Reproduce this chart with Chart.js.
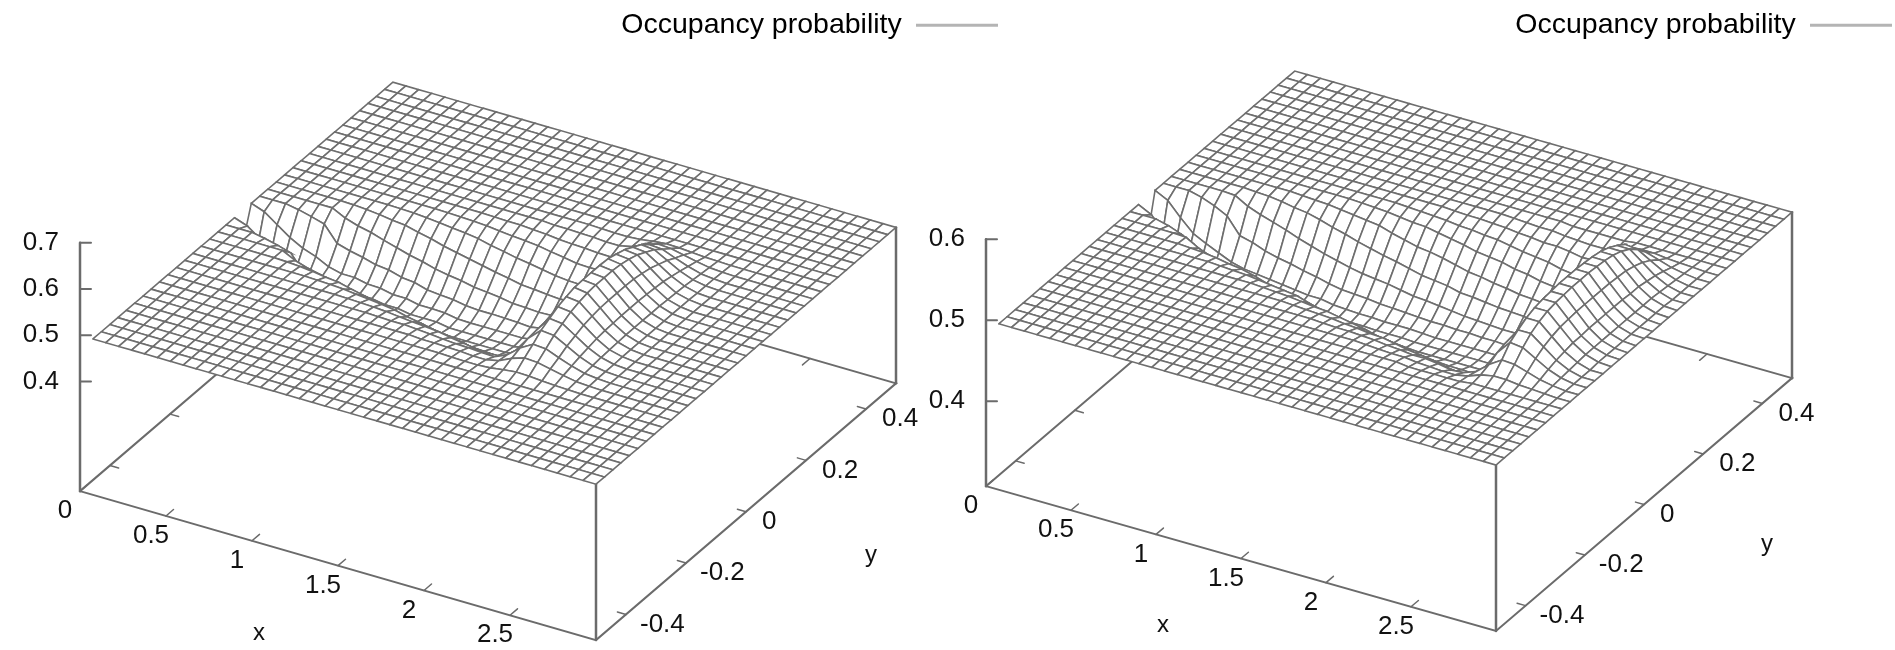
<!DOCTYPE html>
<html>
<head>
<meta charset="utf-8">
<script src="https://cdn.jsdelivr.net/npm/chart.js@4"></script>
<style>
    html, body { margin: 0; padding: 0; background: #fff; overflow: hidden; width: 1895px; height: 650px; }
    .panel { position: absolute; top: 0; height: 650px; }
    canvas { filter: blur(0.5px); }
</style>
</head>
<body>
<div class="panel" style="left:0;width:1009px"><canvas id="leftChart"></canvas></div>
<div class="panel" style="left:920px;width:983px"><canvas id="rightChart"></canvas></div>
<script>
const legendText = 'Occupancy probability';
const xTicks = [0, 0.5, 1, 1.5, 2, 2.5];
const yTicks = [-0.4, -0.2, 0, 0.2, 0.4];
const leftZTicks = [0.4, 0.5, 0.6, 0.7];
const rightZTicks = [0.4, 0.5, 0.6];

// grid nodes of the surface
const xNodes = [0.075, 0.15, 0.225, 0.3, 0.375, 0.45, 0.525, 0.6, 0.675, 0.75, 0.825, 0.9, 0.975, 1.05, 1.125, 1.2, 1.275, 1.35, 1.425, 1.5,
    1.575, 1.65, 1.725, 1.8, 1.875, 1.95, 2.025, 2.1, 2.175, 2.25, 2.325, 2.4, 2.475, 2.55, 2.625, 2.7, 2.775, 2.85, 2.925, 3];
const yNodes = [-0.5, -0.472, -0.444, -0.417, -0.389, -0.361, -0.333, -0.306, -0.278, -0.25, -0.222, -0.194, -0.167, -0.139, -0.111, -0.083, -0.056, -0.028, 0,
    0.028, 0.056, 0.083, 0.111, 0.139, 0.167, 0.194, 0.222, 0.25, 0.278, 0.306, 0.333, 0.361, 0.389, 0.417, 0.444, 0.472, 0.5];

// z in thousandths, one row per x node, columns going out from y = 0. Anything not listed is 500.
const leftZ = [
    [430], [410, 490], [400, 470], [395, 450, 495], [395, 435, 488],
    [395, 425, 480], [400, 411, 446, 486, 499], [395, 404, 438, 477, 497], [395, 404, 432, 471, 494], [390, 398, 424, 462, 490, 499],
    [390, 397, 421, 454, 487, 498], [385, 391, 413, 446, 480, 496], [385, 391, 410, 440, 474, 493, 499], [380, 385, 402, 432, 466, 490, 498], [380, 385, 399, 427, 460, 487, 497],
    [380, 384, 397, 423, 454, 483, 495, 499], [375, 379, 392, 417, 448, 476, 492, 498], [375, 378, 390, 414, 442, 471, 489, 498], [375, 378, 390, 411, 437, 465, 487, 496], [375, 378, 389, 406, 431, 461, 484, 494, 498],
    [375, 378, 388, 405, 429, 456, 479, 491, 498], [375, 378, 386, 403, 426, 451, 475, 489, 497], [380, 382, 391, 404, 424, 448, 470, 488, 496, 499], [385, 387, 395, 406, 426, 447, 469, 486, 494, 498], [400, 402, 408, 417, 433, 451, 470, 485, 494, 498],
    [455, 456, 460, 463, 473, 482, 491, 497], [530, 530, 531, 530, 530, 528, 526, 520, 513, 504], [583, 583, 582, 577, 571, 561, 551, 536, 522, 507], [580, 580, 578, 574, 568, 558, 548, 534, 520, 506], [555, 555, 554, 551, 547, 540, 533, 523, 514, 504],
    [530, 530, 529, 528, 526, 522, 518, 513, 508, 502], [512, 512, 512, 511, 510, 509, 507, 505, 503, 501], [503, 503, 503, 503, 503, 502, 502, 502, 501]
];
const rightZ = [
    [445], [435, 492], [428, 475], [425, 460, 496], [423, 452, 490],
    [422, 445, 482, 499], [430, 438, 462, 490, 499], [428, 434, 458, 484, 498], [426, 432, 452, 479, 496], [425, 430, 448, 474, 493, 499],
    [423, 428, 445, 468, 491, 498], [422, 426, 441, 463, 487, 497], [420, 424, 438, 458, 482, 495], [420, 424, 434, 454, 478, 493, 499], [418, 421, 431, 450, 473, 491, 498],
    [418, 420, 430, 447, 469, 489, 497], [417, 419, 429, 445, 465, 484, 495, 499], [417, 419, 427, 443, 462, 480, 493, 498], [416, 418, 426, 440, 458, 476, 492, 497], [416, 418, 425, 437, 454, 474, 489, 496, 499],
    [416, 418, 424, 436, 452, 471, 486, 494, 498], [415, 417, 423, 434, 450, 467, 483, 493, 498], [415, 416, 423, 432, 446, 463, 479, 491, 497], [415, 416, 422, 430, 445, 461, 477, 490, 496, 499], [415, 416, 422, 429, 443, 458, 475, 487, 494, 498],
    [415, 416, 421, 428, 441, 456, 471, 484, 493, 497], [415, 416, 421, 427, 440, 453, 469, 482, 491, 497], [415, 416, 420, 427, 439, 452, 465, 480, 491, 495, 498], [415, 416, 420, 426, 436, 450, 463, 476, 489, 494, 498], [415, 416, 420, 425, 435, 447, 461, 474, 486, 493, 498],
    [425, 426, 429, 433, 441, 453, 464, 475, 487, 493, 498], [460, 461, 463, 466, 470, 477, 483, 489, 493, 496, 498], [513, 513, 514, 515, 515, 516, 515, 512, 506, 502], [550, 550, 549, 548, 546, 542, 536, 529, 516, 505], [550, 550, 549, 548, 546, 542, 536, 527, 515, 505],
    [533, 533, 533, 532, 531, 528, 524, 518, 510, 503], [517, 517, 517, 516, 516, 514, 512, 509, 505, 502], [506, 506, 506, 506, 506, 505, 504, 503, 502, 501], [501, 501, 501, 501, 501]
];

const LINE_COLOR = '#6e6e6e';
const AXIS_COLOR = '#6b6b6b';
const FONT = '"Liberation Sans", sans-serif';
const LEGEND_HEIGHT = 49;
const MID_ROW = 18;

function project(p, x, y, z) {
    return {
        x: p.origin.x + x * p.xVec.x + (y + 0.5) * p.yVec.x,
        y: p.origin.y + x * p.xVec.y + (y + 0.5) * p.yVec.y - (z - p.baseZ) * p.zScale
    };
}

function segment(points, width) {
    return { data: points, borderColor: AXIS_COLOR, borderWidth: width || 2, fill: false };
}

function buildDatasets(p) {
    const back = [];
    const base = p.baseZ;
    const xMax = xNodes[xNodes.length - 1];

    // box under the surface
    back.push(segment([project(p, 0, -0.5, base), project(p, xMax, -0.5, base), project(p, xMax, 0.5, base), project(p, 0, 0.5, base), project(p, 0, -0.5, base)]));
    back.push(segment([project(p, 0, -0.5, base), project(p, 0, -0.5, p.zTicks[p.zTicks.length - 1])], 2.5));
    back.push(segment([project(p, xMax, -0.5, base), project(p, xMax, -0.5, 0.5)], 2.5));
    back.push(segment([project(p, xMax, 0.5, base), project(p, xMax, 0.5, 0.5)], 2.5));

    xTicks.forEach(v => {
        back.push(segment([project(p, v, -0.5, base), project(p, v, -0.475, base)], 1.5));
        back.push(segment([project(p, v, 0.5, base), project(p, v, 0.475, base)], 1.5));
    });
    yTicks.forEach(v => {
        back.push(segment([project(p, 0, v, base), project(p, 0.05, v, base)], 1.5));
        back.push(segment([project(p, xMax, v, base), project(p, xMax - 0.05, v, base)], 1.5));
    });
    p.zTicks.forEach(v => {
        const a = project(p, 0, -0.5, v);
        back.push(segment([a, { x: a.x + 11, y: a.y }]));
    });

    // cells far to near, so the near ones hide what is behind them
    const zAt = (i, j) => {
        const row = p.z[i] || [];
        const v = row[Math.abs(j - MID_ROW)];
        return (v === undefined ? 500 : v) / 1000;
    };
    const node = (i, j) => project(p, xNodes[i], yNodes[j], zAt(i, j));
    const cells = [];
    for (let i = 0; i < xNodes.length - 1; i++) {
        for (let j = yNodes.length - 2; j >= 0; j--) {
            cells.push({
                data: [node(i, j), node(i + 1, j), node(i + 1, j + 1), node(i, j + 1), node(i, j)],
                borderColor: LINE_COLOR,
                borderWidth: 1.6,
                backgroundColor: '#fff',
                fill: 'shape'
            });
        }
    }

    // chart.js paints the first dataset last
    return back.concat(cells).reverse();
}

const tickLabels = {
    id: 'tickLabels',
    afterDatasetsDraw(chart, args, opts) {
        const p = opts.panel;
        const ctx = chart.ctx;
        const sx = chart.scales.x;
        const sy = chart.scales.y;
        const put = (text, pos, dx, dy, align) => {
            ctx.textAlign = align;
            ctx.fillText(text, sx.getPixelForValue(pos.x + dx), sy.getPixelForValue(pos.y + dy));
        };
        ctx.save();
        ctx.fillStyle = '#111';
        ctx.font = '26px ' + FONT;
        ctx.textBaseline = 'middle';
        xTicks.forEach(v => put(String(v), project(p, v, -0.5, p.baseZ), -15, 20, 'center'));
        yTicks.forEach(v => put(String(v), project(p, xNodes[xNodes.length - 1], v, p.baseZ), v < 0 ? 14 : 16, 10, 'left'));
        p.zTicks.forEach(v => put(v.toFixed(1), project(p, 0, -0.5, v), -21, 0, 'right'));
        ctx.font = '24px ' + FONT;
        ctx.fillText('x', sx.getPixelForValue(p.xLabel.x), sy.getPixelForValue(p.xLabel.y));
        ctx.fillText('y', sx.getPixelForValue(p.yLabel.x), sy.getPixelForValue(p.yLabel.y));
        ctx.restore();
    }
};

function makeChart(id, p) {
    new Chart(document.getElementById(id), {
        type: 'scatter',
        data: { datasets: buildDatasets(p) },
        options: {
            responsive: true,
            maintainAspectRatio: false,
            animation: false,
            events: [],
            showLine: true,
            layout: { padding: 0 },
            elements: { point: { radius: 0 }, line: { tension: 0, borderCapStyle: 'round' } },
            scales: {
                x: { type: 'linear', display: false, min: p.left, max: p.left + p.width },
                y: { type: 'linear', display: false, reverse: true, min: LEGEND_HEIGHT, max: 650 }
            },
            plugins: {
                tooltip: { enabled: false },
                tickLabels: { panel: p },
                legend: {
                    position: 'top',
                    align: 'start',
                    rtl: true,
                    labels: {
                        boxWidth: 82,
                        boxHeight: 3,
                        padding: 11,
                        color: '#111',
                        font: { family: FONT, size: 28.5 },
                        generateLabels: () => [{ text: legendText, fillStyle: '#b4b4b4', strokeStyle: '#b4b4b4', lineWidth: 0, hidden: false }]
                    }
                }
            }
        },
        plugins: [tickLabels]
    });
}

makeChart('leftChart', {
    left: 0, width: 1009,
    origin: { x: 80, y: 491 }, xVec: { x: 172, y: 49.7 }, yVec: { x: 300, y: -257 },
    baseZ: 0.163, zScale: 463, zTicks: leftZTicks, z: leftZ,
    xLabel: { x: 265, y: 633 }, yLabel: { x: 877, y: 555 }
});
makeChart('rightChart', {
    left: 920, width: 983,
    origin: { x: 986, y: 486 }, xVec: { x: 170, y: 48.3 }, yVec: { x: 296, y: -253 },
    baseZ: 0.295, zScale: 810, zTicks: rightZTicks, z: rightZ,
    xLabel: { x: 1169, y: 625 }, yLabel: { x: 1773, y: 544 }
});
</script>
</body>
</html>
